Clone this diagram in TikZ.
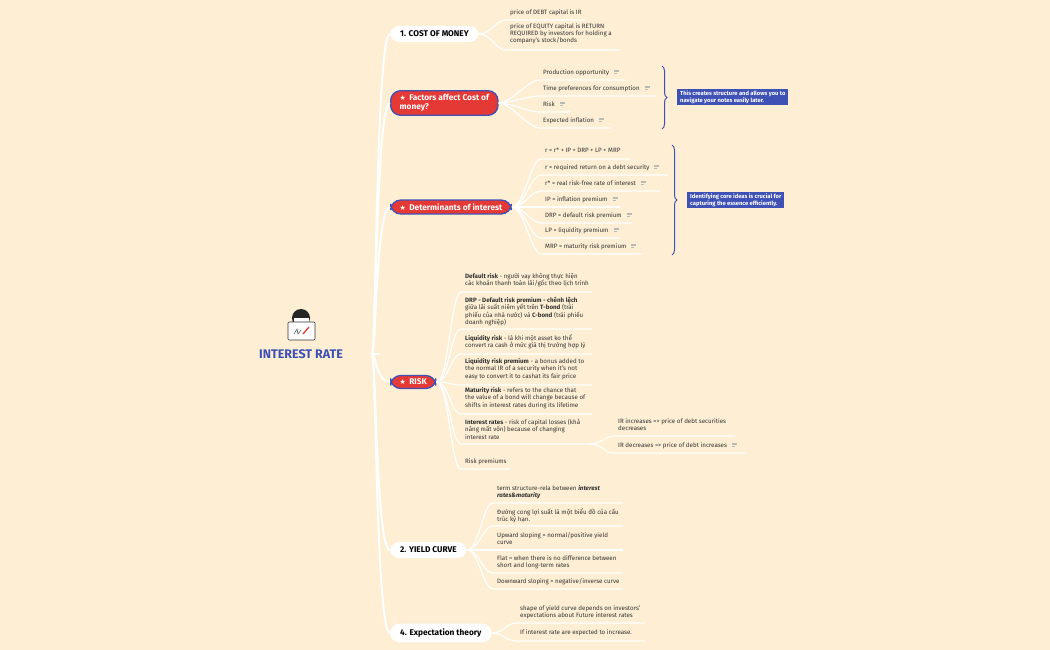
\documentclass[tikz,border=0pt]{standalone}
\usepackage{fontspec}
\setmainfont{Fira Sans}
\newfontfamily\djv{DejaVu Sans}
\usetikzlibrary{decorations.pathreplacing}
\definecolor{bg}{HTML}{FDEED4}
\definecolor{rd}{HTML}{E53935}
\definecolor{bl}{HTML}{3F51B5}
\definecolor{tx}{HTML}{333333}
\newcommand\nic{\hspace{5pt}\raisebox{0.3pt}{\color{gray!55}\parbox[b]{5pt}{\rule{5pt}{0.5pt}\\[-5.6pt]\rule{5pt}{0.5pt}\\[-5.6pt]\rule{3pt}{0.5pt}}}}
\tikzset{
 br/.style={white,line width=1.2pt},
 trunk/.style={white,line width=2pt},
 wnode/.style={anchor=west,fill=white,rounded corners=9pt,font=\fontsize{8.3}{9.5}\selectfont\bfseries,text=black,inner xsep=10pt,inner ysep=5pt},
 rnode/.style={anchor=west,fill=rd,draw=bl,line width=1.3pt,rounded corners=10pt,font=\fontsize{8.3}{9.5}\selectfont\bfseries,text=white,inner xsep=9pt,inner ysep=3.5pt,align=left},
 leaf/.style={font=\fontsize{6.2}{7.4}\selectfont,text=tx,inner sep=0pt,align=left},
 call/.style={fill=bl,text=white,font=\fontsize{5.8}{7}\selectfont\bfseries,inner xsep=3pt,inner ysep=2pt,align=left,anchor=west},
 brace/.style={bl,line width=1pt,decorate,decoration={brace,amplitude=5pt}}
}
\newcommand\lf[7]{%
 \node[leaf,anchor=north west] (#2) at (#3,#4) {#7};
 \coordinate (#2s) at (#3-4,#5); \coordinate (#2e) at (#6,#5);
 \draw[br] (#1.east) .. controls +(12,0) and +(-10,0) .. (#2s) -- (#2e);}
\begin{document}
\begin{tikzpicture}[x=1pt,y=-1pt]
\fill[bg] (0,0) rectangle (1050,650);
\useasboundingbox (0,0) rectangle (1050,650);
% center
\node[font=\fontsize{12.5}{14}\selectfont\bfseries,text=bl] (root) at (301,354) {INTEREST RATE};
\fill[black!85] (301,318) ellipse (9 and 9);
\fill[white] (293.5,318) rectangle (308.5,327);
\draw[black!80,fill=white,line width=0.7pt,rounded corners=1pt] (288,322) rectangle (315,340);
\draw[black!70,line width=0.5pt] (294,334) -- (297,329) -- (298,334) -- (301,330);
\draw[rd,line width=1.3pt] (303,334) -- (309,327);
\coordinate (hub) at (372,354);
\coordinate (tx) at (376,0);
\draw[trunk] (hub) -- (380,354);
% main nodes
\node[wnode] (cm) at (390,34) {1. COST OF MONEY};
\node[rnode] (fa) at (390,103) {{\djv\fontsize{7}{8}\selectfont ★}\, Factors affect Cost of\\money?};
\node[rnode] (de) at (390,207) {{\djv\fontsize{7}{8}\selectfont ★}\, Determinants of interest};
\node[rnode] (ri) at (390,382) {{\djv\fontsize{7}{8}\selectfont ★}\, RISK};
\node[wnode] (yc) at (390,550) {2. YIELD CURVE};
\node[wnode] (et) at (390,633) {4. Expectation theory};
\foreach \n in {cm,fa,de,ri,yc,et}
 \draw[trunk] (hub) .. controls (376,354) and (tx |- \n.west) .. (\n.west);
% cost of money
\lf{cm}{c1}{510}{9}{20}{585}{price of DEBT capital is IR}
\lf{cm}{c2}{510}{23}{50}{620}{price of EQUITY capital is RETURN\\REQUIRED by investors for holding a\\company's stock/bonds}
% factors
\lf{fa}{f1}{543}{69}{80}{625}{Production opportunity\nic}
\lf{fa}{f2}{543}{85}{96}{657}{Time preferences for consumption\nic}
\lf{fa}{f3}{543}{101}{112}{570}{Risk\nic}
\lf{fa}{f4}{543}{117}{128}{612}{Expected inflation\nic}
\draw[brace] (662,66) -- (662,129);
\node[call] (k1) at (677,97) {This creates structure and allows you to\\navigate your notes easily later.};
% determinants
\lf{de}{d1}{545}{148}{159}{630}{r = r* + IP + DRP + LP + MRP}
\lf{de}{d2}{545}{164}{175}{668}{r = required return on a debt security\nic}
\lf{de}{d3}{545}{180}{191}{660}{r* = real risk-free rate of interest\nic}
\lf{de}{d4}{545}{196}{207}{620}{IP = inflation premium\nic}
\lf{de}{d5}{545}{212}{223}{632}{DRP = default risk premium\nic}
\lf{de}{d6}{545}{227}{238}{620}{LP = liquidity premium\nic}
\lf{de}{d7}{545}{243}{254}{642}{MRP = maturity risk premium\nic}
\draw[brace] (672,145) -- (672,255);
\node[call] (k2) at (687,200) {Identifying core ideas is crucial for\\capturing the essence efficiently.};
% risk
\lf{ri}{r1}{465}{273}{292}{592}{\textbf{Default risk} - người vay không thực hiện\\các khoản thanh toán lãi/gốc theo lịch trình}
\lf{ri}{r2}{465}{297}{329}{592}{\textbf{DRP - Default risk premium - chênh lệch}\\giữa lãi suất niêm yết trên \textbf{T-bond} (trái\\phiếu của nhà nước) và \textbf{C-bond} (trái phiếu\\doanh nghiệp)}
\lf{ri}{r3}{465}{334}{354}{592}{\textbf{Liquidity risk} - là khi một asset ko thể\\convert ra cash ở mức giá thị trường hợp lý}
\lf{ri}{r4}{465}{358}{385}{592}{\textbf{Liquidity risk premium} - a bonus added to\\the normal IR of a security when it's not\\easy to convert it to cashat its fair price}
\lf{ri}{r5}{465}{387}{414}{592}{\textbf{Maturity risk} - refers to the chance that\\the value of a bond will change because of\\shifts in interest rates during its lifetime}
\lf{ri}{r6}{465}{419}{444}{590}{\textbf{Interest rates} - risk of capital losses (khả\\năng mất vốn) because of changing\\interest rate}
\lf{ri}{r7}{465}{458}{469}{510}{Risk premiums}
\lf{r6e}{s1}{618}{418}{436}{735}{IR increases => price of debt securities\\decreases}
\lf{r6e}{s2}{618}{442}{453}{745}{IR decreases => price of debt increases\nic}
% yield curve
\lf{yc}{y1}{497}{485}{503}{623}{term structure-rela between \textbf{\itshape interest}\\\textbf{\itshape rates\&maturity}}
\lf{yc}{y2}{497}{508}{526}{623}{Đường cong lợi suất là một biểu đồ của cấu\\trúc kỳ hạn.}
\lf{yc}{y3}{497}{532}{550}{623}{Upward sloping = normal/positive yield\\curve}
\lf{yc}{y4}{497}{555}{573}{623}{Flat = when there is no difference between\\short and long-term rates}
\lf{yc}{y5}{497}{578}{589}{623}{Downward sloping = negative/inverse curve}
% expectation
\lf{et}{e1}{520}{605}{623}{645}{shape of yield curve depends on investors'\\expectations about Future interest rates}
\lf{et}{e2}{520}{629}{641}{645}{If interest rate are expected to increase.}
\end{tikzpicture}
\end{document}
